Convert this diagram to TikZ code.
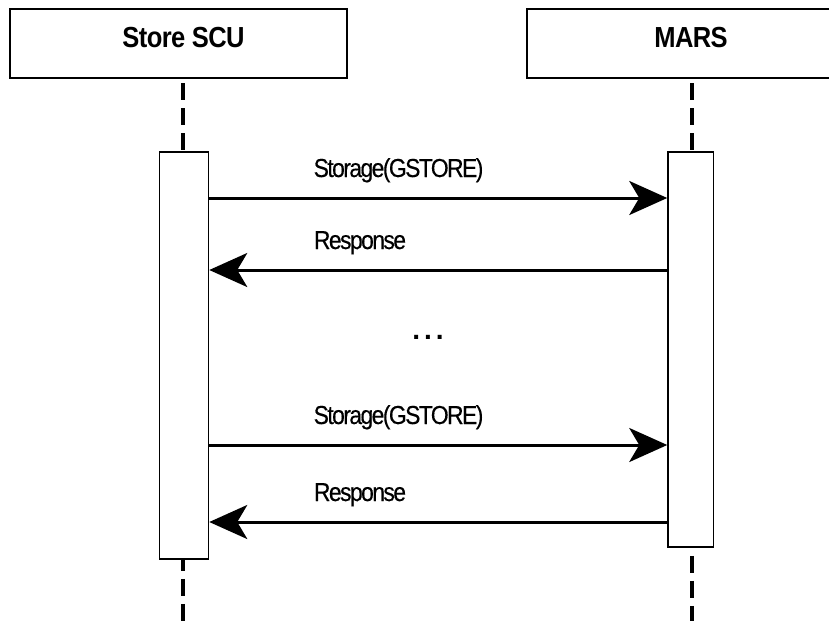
\documentclass[tikz,border=0pt]{standalone}
\usepackage{fontspec}
\setmainfont{Liberation Sans}
\newfontfamily\labfont[LetterSpace=-6,FakeStretch=0.88,FakeBold=0.3]{Liberation Sans}
\newfontfamily\hdrfont[LetterSpace=-2,FakeStretch=0.88]{Liberation Sans}
\newfontfamily\dotfont[LetterSpace=14]{Liberation Sans}
\usetikzlibrary{arrows.meta}
\begin{document}
\begin{tikzpicture}[x=1pt,y=-1pt,
  headbox/.style={draw, line width=2pt, fill=white, minimum width=337pt, minimum height=69pt, inner sep=0pt},
  headtext/.style={inner sep=0pt, font=\hdrfont\bfseries\fontsize{29}{32}\selectfont},
  actbox/.style={draw, line width=1.5pt, fill=white, inner sep=0pt},
  lifeline/.style={line width=4pt, dash pattern=on 17pt off 8pt},
  msg/.style={line width=3pt, -{Stealth[length=38pt, width=34pt, inset=10pt]}},
  msglabel/.style={inner sep=0pt, anchor=base, font=\labfont\fontsize{26}{30}\selectfont}
]
\useasboundingbox (0,0) rectangle (829,621);
\clip (0,0) rectangle (829,621);
\fill[white] (0,0) rectangle (829,621);

% header boxes
\node[headbox] (scuBox) at (178.5,43.5) {};
\node[headbox] (marsBox) at (695.5,43.5) {};
\node[headtext] (scuName) at (183.5,38) {Store SCU};
\node[headtext] (marsName) at (691,38) {MARS};

% activation boxes
\node[actbox, minimum width=49pt, minimum height=407pt] (actL) at (184,355.5) {};
\node[actbox, minimum width=45.5pt, minimum height=395pt] (actR) at (690.75,349.5) {};

% lifeline anchors
\coordinate (lTop) at (183,83);
\coordinate (rTop) at (692,83);
\coordinate (lEnd) at (183,621);
\coordinate (rEnd) at (692,621);

\draw[lifeline] (lTop) -- (lTop |- actL.north);
\draw[lifeline] (rTop) -- (rTop |- actR.north);
\draw[lifeline, dash phase=6pt] (lTop |- actL.south) -- (lEnd);
\draw[lifeline, dash phase=17pt] (rTop |- actR.south) -- (rEnd);

% message levels
\coordinate (m1) at (0,198);
\coordinate (m2) at (0,270);
\coordinate (m3) at (0,445);
\coordinate (m4) at (0,522);

\draw[msg] (actL.east |- m1) -- (actR.west |- m1);
\draw[msg] (actR.west |- m2) -- (actL.east |- m2);
\draw[msg] (actL.east |- m3) -- (actR.west |- m3);
\draw[msg] (actR.west |- m4) -- (actL.east |- m4);

\node[msglabel] (l1) at (398.5,177) {Storage(GSTORE)};
\node[msglabel] (l2) at (360,249) {Response};
\node[msglabel] (l3) at (398.5,424) {Storage(GSTORE)};
\node[msglabel] (l4) at (360,501) {Response};

\node[inner sep=0pt, anchor=base, font=\dotfont\bfseries\fontsize{28}{30}\selectfont] (dots) at (428,339) {...};
\end{tikzpicture}
\end{document}
